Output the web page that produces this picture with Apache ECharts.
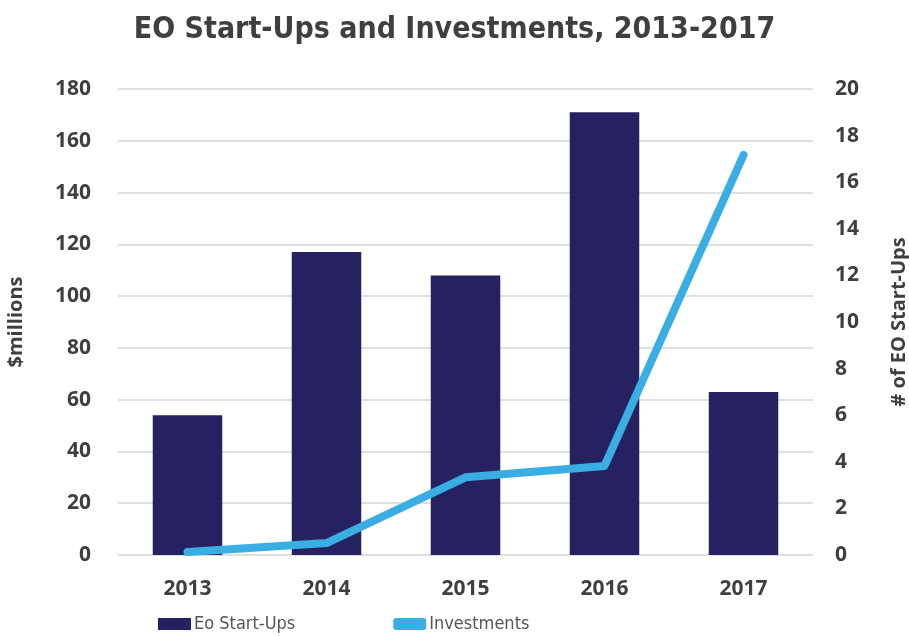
<!DOCTYPE html>
<html><head><meta charset="utf-8">
<script src="https://cdn.jsdelivr.net/npm/echarts@6/dist/echarts.min.js"></script>
<style>html,body{margin:0;padding:0;background:#fff}#c{width:909px;height:636px}</style>
</head><body><div id="c"></div>
<script>
const categories = ['2013','2014','2015','2016','2017'];
const startUps = [6, 13, 12, 19, 7];
const investments = [1.2, 4.6, 30, 34.4, 154.5];
const leftTicks = {min:0, max:180, interval:20};
const rightTicks = {min:0, max:20, interval:2};

const chart = echarts.init(document.getElementById('c'));
const tc = '#3f3f3f';
const lf = {color: tc, fontSize: 21, fontWeight: 'bold', fontFamily: 'Open Sans'};
chart.setOption({
  animation: false,
  title: {text: 'EO Start-Ups and Investments, 2013-2017', left: 'center', top: 10,
    textStyle: {color: tc, fontSize: 30, fontWeight: 'bold', fontFamily: 'DejaVu Sans Condensed'}},
  grid: {left: 118, right: 96, top: 89, bottom: 81, outerBoundsMode: 'none', containLabel: false},
  legend: {top: 615, left: 158, itemGap: 98, itemWidth: 33, itemHeight: 12, padding: 0,
    textStyle: {color: '#555', fontSize: 18, fontFamily: 'DejaVu Sans Condensed', padding: [0,0,0,-2]},
    data: [{name: 'Eo Start-Ups', icon: 'rect'}, {name: 'Investments', icon: 'roundRect'}]},
  xAxis: {type: 'category', data: categories,
    axisLine: {show: false}, axisTick: {show: false},
    axisLabel: Object.assign({margin: 24}, lf)},
  yAxis: [
    {type: 'value', min: leftTicks.min, max: leftTicks.max, interval: leftTicks.interval,
     name: '$millions', nameLocation: 'middle', nameGap: 92, nameRotate: 90,
     nameTextStyle: {color: tc, fontSize: 20, fontWeight: 'bold', fontFamily: 'Open Sans'},
     axisLabel: Object.assign({margin: 27}, lf),
     splitLine: {lineStyle: {color: '#d4d4d4', width: 1.5}}},
    {type: 'value', min: rightTicks.min, max: rightTicks.max, interval: rightTicks.interval,
     name: '# of EO Start-Ups', nameLocation: 'middle', nameGap: 76, nameRotate: 90,
     nameTextStyle: {color: tc, fontSize: 20, fontWeight: 'bold', fontFamily: 'Open Sans'},
     axisLabel: Object.assign({margin: 22}, lf),
     splitLine: {show: false}}
  ],
  series: [
    {name: 'Eo Start-Ups', type: 'bar', yAxisIndex: 1, data: startUps, barWidth: '50%',
     itemStyle: {color: '#262261'}},
    {name: 'Investments', type: 'line', yAxisIndex: 0, data: investments,
     symbol: 'none', lineStyle: {color: '#3aaee2', width: 8, cap: 'round', join: 'round'},
     itemStyle: {color: '#3aaee2'}}
  ]
});
</script></body></html>
